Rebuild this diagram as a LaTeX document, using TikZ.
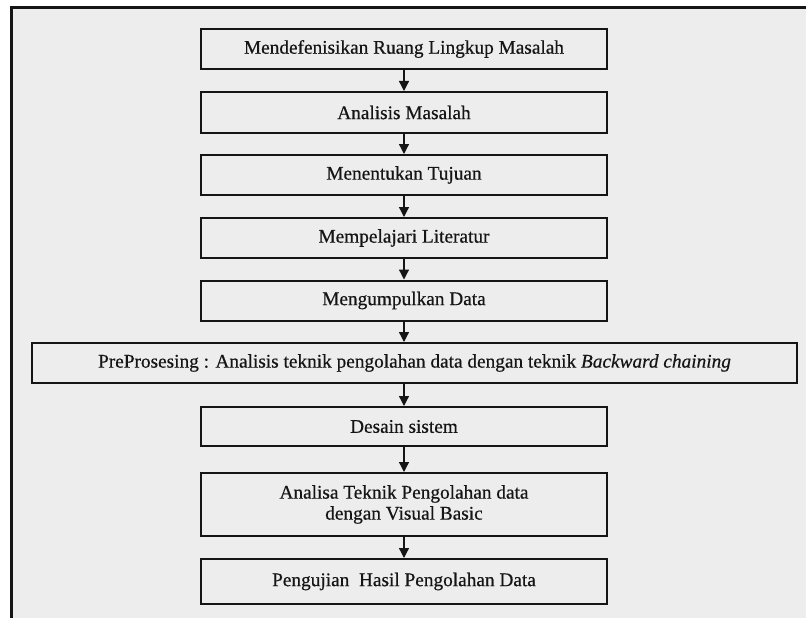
\documentclass[tikz,border=0pt]{standalone}
\usepackage{fontspec}
\setmainfont{Liberation Serif}[FakeBold=0.5]
\usetikzlibrary{arrows.meta,positioning}
\definecolor{bggray}{HTML}{EDEDED}
\definecolor{ink}{HTML}{151515}
\tikzset{
  stepbox/.style={draw=ink, line width=2pt, minimum width=406pt, inner sep=0pt, align=center,
    font=\fontsize{19.3pt}{21pt}\selectfont, text=ink},
  flowarrow/.style={draw=ink, line width=1.3pt, -{Triangle[length=10pt,width=10pt]}}
}
\begin{document}
\begin{tikzpicture}[x=1pt,y=-1pt]
\useasboundingbox (0,0) rectangle (806,618);
\fill[bggray] (11,8) rectangle (806,618);
\draw[ink, line width=3pt] (11,618) -- (11,8) -- (806,8);
\node[stepbox, minimum height=40pt] (b1) at (404,49) {Mendefenisikan Ruang Lingkup Masalah};
\node[stepbox, minimum height=41pt] (b2) at (404,112.5) {Analisis Masalah};
\node[stepbox, minimum height=40pt] (b3) at (404,175) {Menentukan Tujuan};
\node[stepbox, minimum height=40pt] (b4) at (404,238) {Mempelajari Literatur};
\node[stepbox, minimum height=40pt] (b5) at (404,300.5) {Mengumpulkan Data};
\node[stepbox, minimum height=40pt, minimum width=765pt] (b6) at (414.5,363) {PreProsesing : Analisis teknik pengolahan data dengan teknik \textit{Backward chaining}};
\node[stepbox, minimum height=39pt] (b7) at (404,426.5) {Desain sistem};
\node[stepbox, minimum height=63pt] (b8) at (404,504.5) {Analisa Teknik Pengolahan data\\dengan Visual Basic};
\node[stepbox, minimum height=45pt] (b9) at (404,581.5) {Pengujian\ \ Hasil Pengolahan Data};
\draw[flowarrow] (b1) -- (b2);
\draw[flowarrow] (b2) -- (b3);
\draw[flowarrow] (b3) -- (b4);
\draw[flowarrow] (b4) -- (b5);
\draw[flowarrow] (b5.south) -- (b5.south |- b6.north);
\draw[flowarrow] (b7.north |- b6.south) -- (b7.north);
\draw[flowarrow] (b7) -- (b8);
\draw[flowarrow] (b8) -- (b9);
\end{tikzpicture}
\end{document}
